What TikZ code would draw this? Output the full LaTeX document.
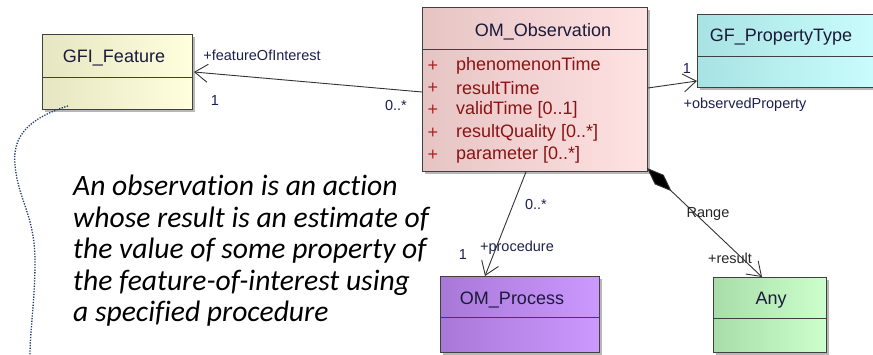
\documentclass[tikz,border=0pt]{standalone}
\usepackage{fontspec}
\setmainfont{Liberation Sans}
\newfontfamily\notefont[RawFeature={-liga;-clig;-calt;-dlig}]{Carlito}
\usetikzlibrary{arrows.meta,shadows,calc}

\definecolor{boxline}{HTML}{404040}
\definecolor{featL}{HTML}{E6E6C2}
\definecolor{featR}{HTML}{FFFFDE}
\definecolor{obsL}{HTML}{E6C4C4}
\definecolor{obsR}{HTML}{FFE2E2}
\definecolor{propL}{HTML}{A8E2E2}
\definecolor{propR}{HTML}{CCFFFF}
\definecolor{procL}{HTML}{A878D8}
\definecolor{procR}{HTML}{CC99FF}
\definecolor{anyL}{HTML}{A8DCA8}
\definecolor{anyR}{HTML}{CCFFCC}
\definecolor{titlecol}{HTML}{1A1A3A}
\definecolor{attrcol}{HTML}{8A1414}
\definecolor{pluscol}{HTML}{B02020}
\definecolor{labelcol}{HTML}{1C2050}
\definecolor{notecol}{HTML}{1F3A6A}

\begin{document}
\begin{tikzpicture}[x=1pt,y=-1pt,
  umlclass/.style={draw=boxline, line width=0.9pt, inner sep=0pt, anchor=north west,
    drop shadow={shadow xshift=3pt, shadow yshift=-3pt, fill=black!40, opacity=0.7}},
  divider/.style={draw=boxline, line width=0.9pt},
  classname/.style={text=titlecol, font=\fontsize{18}{20}\selectfont, inner sep=0pt},
  attrplus/.style={text=pluscol, font=\fontsize{18}{20}\selectfont, inner sep=0pt},
  attrtext/.style={text=attrcol, font=\fontsize{18}{20}\selectfont, inner sep=0pt, anchor=west},
  rolelabel/.style={text=labelcol, font=\fontsize{14.5}{16}\selectfont, inner sep=0pt},
  assoc/.style={draw=black!80, line width=0.9pt, -{Straight Barb[length=13pt,width=18pt]}},
  compose/.style={draw=black!80, line width=0.9pt,
    {Diamond[length=34pt,width=13pt,fill=black]}-{Straight Barb[length=13pt,width=18pt]}},
  noteline/.style={draw=notecol, line width=1.3pt, dash pattern=on 1.3pt off 1.4pt}]

\useasboundingbox (0,0) rectangle (873,355);
\clip (0,0) rectangle (873,355);

% classes
\node[umlclass, minimum width=150pt, minimum height=75pt, left color=featL, right color=featR] (feat) at (42,34) {};
\node[umlclass, minimum width=225pt, minimum height=164pt, left color=obsL, right color=obsR] (obs) at (422,7) {};
\node[umlclass, minimum width=190pt, minimum height=73pt, left color=propL, right color=propR] (prop) at (697,14) {};
\node[umlclass, minimum width=159pt, minimum height=76pt, left color=procL, right color=procR] (proc) at (440,276) {};
\node[umlclass, minimum width=113pt, minimum height=75pt, left color=anyL, right color=anyR] (any) at (713,277) {};

% compartment lines
\draw[divider] (feat.west |- 0,77) -- (feat.east |- 0,77);
\draw[divider] (obs.west |- 0,49) -- (obs.east |- 0,49);
\draw[divider] (prop.west |- 0,56) -- (prop.east |- 0,56);
\draw[divider] (proc.west |- 0,317) -- (proc.east |- 0,317);
\draw[divider] (any.west |- 0,318) -- (any.east |- 0,318);

% class names
\node[classname] (featname) at (114,58) {GFI\_Feature};
\node[classname] (obsname) at (543,32) {OM\_Observation};
\node[classname] (propname) at (781,37) {GF\_PropertyType};
\node[classname] (procname) at (512,300) {OM\_Process};
\node[classname] (anyname) at (771,300) {Any};

% attributes of OM_Observation
\foreach \y/\t [count=\i] in {66/phenomenonTime, 88/resultTime, 110/{validTime [0..1]},
    133/{resultQuality [0..*]}, 155/{parameter [0..*]}} {
  \node[attrplus] (plus\i) at (433,\y) {+};
  \node[attrtext] (attr\i) at (456,\y) {\t};
}

% associations
\draw[assoc] ($(obs.north west)+(0,85)$) -- ($(feat.north east)+(1,38)$);
\draw[assoc] ($(obs.north east)+(0,81)$) -- ($(prop.north west)+(0,67)$);
\draw[assoc] ($(obs.south west)+(104,0)$) -- ($(proc.north west)+(45,0)$);
\draw[compose] ($(obs.south east)+(-1,-4)$) -- ($(any.north west)+(49,0)$);

% role names and multiplicities
\node[rolelabel] (foiRole) at (262,55) {+featureOfInterest};
\node[rolelabel] (foiOne) at (215,101) {1};
\node[rolelabel] (foiMany) at (396,106) {0..*};
\node[rolelabel] (propOne) at (687,69) {1};
\node[rolelabel] (propRole) at (745,105) {+observedProperty};
\node[rolelabel] (procMany) at (536,205) {0..*};
\node[rolelabel] (procOne) at (463,255) {1};
\node[rolelabel] (procRole) at (517,248) {+procedure};
\node[rolelabel, text=black!85] (rangeName) at (708,214) {Range};
\node[rolelabel, text=black!85] (resultRole) at (730,258) {+result};

% explanatory note
\node[anchor=north west, align=left, inner sep=0pt,
  font=\notefont\itshape\fontsize{29.6}{31.5}\selectfont] (note) at (73,175)
  {An observation is an action\\
   whose result is an estimate of\\
   the value of some property of\\
   the feature-of-interest using\\
   a specified procedure};

% dotted link from the feature
\coordinate (noteEnd) at (30,356);
\draw[noteline] ($(feat.south west)+(26,-4)$) .. controls (30,118) and (12,135) .. (15,165)
  .. controls (18,200) and (35,215) .. (35,262) .. controls (35,300) and (30,330) .. (noteEnd);
\end{tikzpicture}
\end{document}
